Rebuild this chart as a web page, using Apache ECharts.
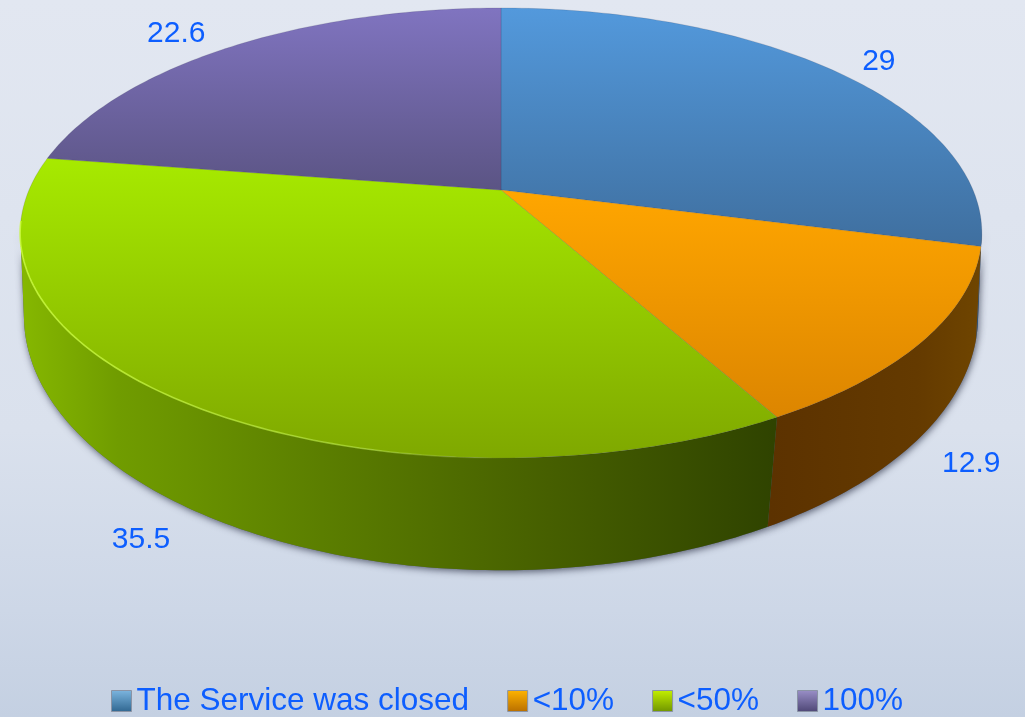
<!DOCTYPE html>
<html>
<head>
<meta charset="utf-8">
<title>Pie</title>
<style>
  html, body { margin: 0; padding: 0; background: #d8dfec; }
  #main { width: 1025px; height: 717px; }
</style>
<script src="https://cdn.jsdelivr.net/npm/echarts@6/dist/echarts.min.js"></script>
</head>
<body>
<div id="main"></div>
<script>
// data
var categories = ['The Service was closed', '<10%', '<50%', '100%'];
var values = [29, 12.9, 35.5, 22.6];

var G = echarts.graphic;
var FONT = 'Liberation Sans, Arial, sans-serif';
var TEXT_COLOR = '#0d5eff';

function grad(x, y, x2, y2, stops) {
  var list = [];
  for (var i = 0; i < stops.length; i++) {
    list.push({ offset: stops[i][0], color: stops[i][1] });
  }
  return new G.LinearGradient(x, y, x2, y2, list, true);
}

// top face, per slice
var topFill = [
  grad(0, 8, 0, 246, [[0, '#5399dc'], [1, '#3f6f9f']]),
  grad(0, 190, 0, 420, [[0, '#ffa600'], [1, '#dc8500']]),
  grad(0, 158, 0, 458, [[0, '#a7ea00'], [1, '#7fa800']]),
  grad(0, 8, 0, 190, [[0, '#8074c0'], [1, '#5b5484']])
];
// side wall, per slice
var wallFill = [
  '#2f5275',
  grad(770, 0, 980, 0, [[0, '#5c3200'], [0.7, '#643a00'], [1, '#6f4500']]),
  grad(20, 0, 775, 0, [[0, '#86b800'], [0.13, '#709c00'], [0.4, '#5b7e00'], [0.7, '#465f00'], [1, '#2f4300']]),
  '#4a4470'
];
var legendFill = [
  ['#7db6e0', '#2f6690'],
  ['#ffb400', '#b86e00'],
  ['#c4f000', '#6f9400'],
  ['#9a90c8', '#4d4675']
];
var labelOffsets = [[44, -9], [47, 124], [-41, 138], [-56, -13]];

// the disc as seen in perspective: a circle through a homography
var apex = [501, 190];
var topRim = { x: 501, y: 190, a: 472, b: 216.8, k: -0.191 };
var bottomRim = { x: 501, y: 275, a: 470.9, b: 248, k: -0.16 };

function project(rim, deg) {
  var t = deg * Math.PI / 180;
  var u = Math.sin(t), v = -Math.cos(t);
  var w = 1 + rim.k * v;
  return [rim.x + rim.a * u / w, rim.y + rim.b * v / w];
}

function arc(rim, from, to) {
  var pts = [];
  var n = Math.max(2, Math.ceil(Math.abs(to - from)));
  for (var i = 0; i <= n; i++) {
    pts.push(project(rim, from + (to - from) * i / n));
  }
  return pts;
}

var total = 0;
for (var i = 0; i < values.length; i++) total += values[i];

function renderSlice(index) {
  var start = 0;
  for (var i = 0; i < index; i++) start += values[i] / total * 360;
  var end = start + values[index] / total * 360;
  var mid = (start + end) / 2;
  var children = [];

  // only the front of the wall can be seen
  var from = Math.max(start, 100);
  var to = Math.min(end, 260);
  if (to > from) {
    var wall = arc(topRim, from, to).concat(arc(bottomRim, to, from));
    children.push({
      type: 'polygon', z2: 0, shape: { points: wall },
      style: { fill: '#555b70', shadowBlur: 7, shadowColor: 'rgba(50,55,75,0.75)', shadowOffsetX: 1, shadowOffsetY: 2 }
    });
    children.push({
      type: 'polygon', z2: 1, shape: { points: wall },
      style: { fill: wallFill[index] }
    });
  }

  children.push({
    type: 'polygon', z2: 10,
    shape: { points: [apex].concat(arc(topRim, start, end)) },
    style: { fill: topFill[index], stroke: 'rgba(50,50,70,0.15)', lineWidth: 1 }
  });

  // pale rim highlight on the big slice
  if (index === 2) {
    children.push({
      type: 'polyline', z2: 11,
      shape: { points: arc(topRim, 175, 262) },
      style: {
        fill: null, lineWidth: 1.6,
        stroke: grad(20, 0, 520, 0, [[0, 'rgba(205,255,60,0.85)'], [0.7, 'rgba(190,240,60,0.6)'], [1, 'rgba(170,210,40,0)']])
      }
    });
  }

  var rimPoint = project(topRim, mid);
  children.push({
    type: 'text', z2: 20,
    style: {
      x: rimPoint[0] + labelOffsets[index][0],
      y: rimPoint[1] + labelOffsets[index][1],
      text: String(values[index]),
      fill: TEXT_COLOR,
      font: '30px ' + FONT,
      align: 'center',
      verticalAlign: 'middle'
    }
  });
  return { type: 'group', children: children };
}

var seriesList = [];
var legendData = [];
categories.forEach(function (name, index) {
  seriesList.push({
    name: name,
    type: 'custom',
    coordinateSystem: 'none',
    data: [[values[index]]],
    renderItem: function () { return renderSlice(index); }
  });
  legendData.push({
    name: name,
    itemStyle: {
      color: new G.LinearGradient(0, 0, 0, 1, [
        { offset: 0, color: legendFill[index][0] },
        { offset: 1, color: legendFill[index][1] }
      ]),
      borderColor: '#8a93a5',
      borderWidth: 1
    }
  });
});

var myChart = echarts.init(document.getElementById('main'));
var option = {
  animation: false,
  backgroundColor: new G.LinearGradient(0, 0, 0, 1, [
    { offset: 0, color: '#e2e7f1' },
    { offset: 0.6, color: '#dae1ed' },
    { offset: 0.85, color: '#cdd7e7' },
    { offset: 1, color: '#c4d0e2' }
  ]),
  legend: {
    data: legendData,
    orient: 'horizontal',
    left: 106,
    top: 680,
    icon: 'rect',
    itemWidth: 20,
    itemHeight: 21,
    itemGap: 38,
    textStyle: { color: TEXT_COLOR, fontSize: 31.5, fontFamily: FONT, padding: [2, 0, 0, 0] }
  },
  series: seriesList
};
myChart.setOption(option);
</script>
</body>
</html>
